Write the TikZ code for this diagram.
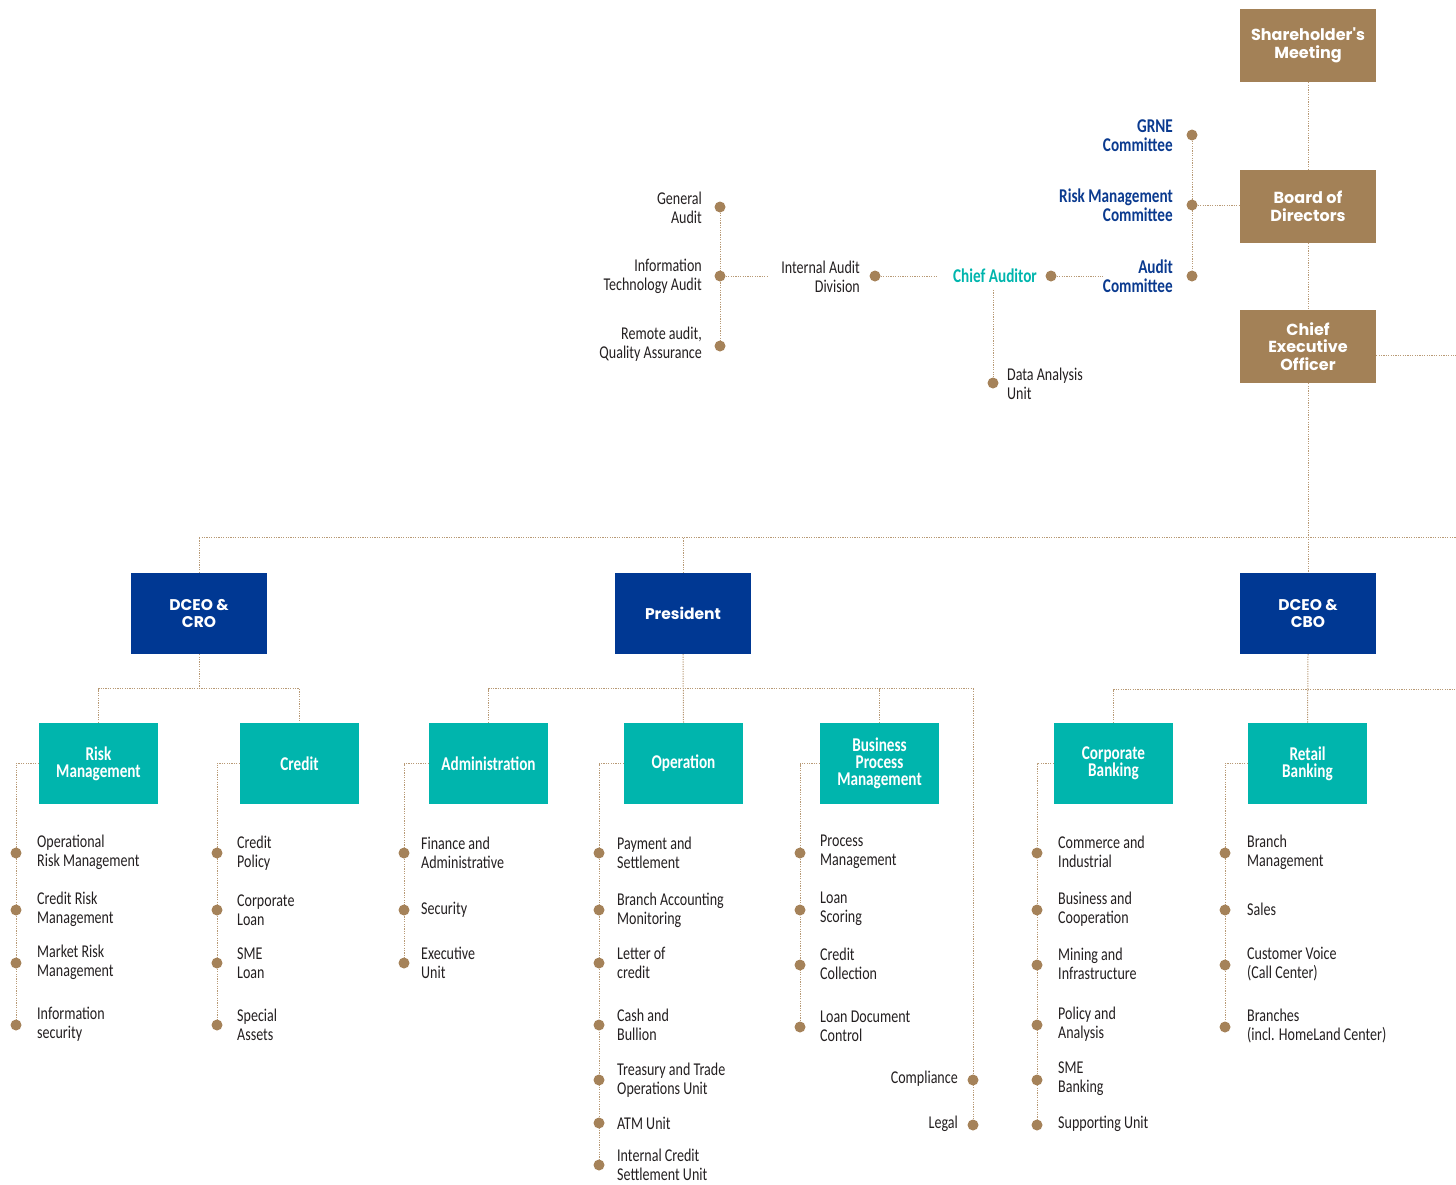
\documentclass[tikz,border=0pt]{standalone}
\usepackage{fontspec}
\setmainfont{Carlito}
\newfontfamily\cond[FakeStretch=0.78]{Carlito}
\newfontfamily\pop{Poppins}
\usetikzlibrary{backgrounds}
\definecolor{boxbrown}{HTML}{A38157}
\definecolor{dotc}{HTML}{A58259}
\definecolor{linec}{HTML}{B89A76}
\definecolor{navy}{HTML}{003893}
\definecolor{teal}{HTML}{00B5AD}
\definecolor{cblue}{HTML}{0A3A8F}
\definecolor{txt}{HTML}{231F20}
\tikzset{
  box/.style={minimum width=136pt, inner sep=0pt, align=center, text=white},
  bbox/.style={box, fill=boxbrown, minimum height=73pt, font=\pop\bfseries\fontsize{16}{17.5}\selectfont},
  dbox/.style={box, fill=navy, minimum height=81pt, font=\pop\bfseries\fontsize{15.5}{17.5}\selectfont},
  tbox/.style={box, fill=teal, minimum width=119pt, minimum height=81pt, font=\cond\bfseries\fontsize{19.5}{17}\selectfont},
  dot/.style={circle, fill=dotc, minimum size=11pt, inner sep=0pt},
  conn/.style={draw=linec, line width=1pt, dash pattern=on 1.2pt off 1.2pt},
  lbl/.style={font=\cond\fontsize{18}{19}\selectfont, text=txt, inner sep=0pt, align=left, anchor=west},
  lblr/.style={lbl, align=right, anchor=east},
  cmt/.style={font=\cond\bfseries\fontsize{19.5}{19}\selectfont, text=cblue, inner sep=0pt, align=right, anchor=east},
}
\begin{document}
\begin{tikzpicture}[x=1pt,y=-1pt]
\useasboundingbox (0,0) rectangle (1456,1184);
% top boxes
\node[bbox] (sh)  at (1308,45.5)  {Shareholder's\\Meeting};
\node[bbox] (bod) at (1308,206.5) {Board of\\Directors};
\node[bbox] (ceo) at (1308,346.5) {Chief\\Executive\\Officer};
% committees
\node[dot] (g1) at (1192,135) {};
\node[dot] (g2) at (1192,205) {};
\node[dot] (g3) at (1192,276) {};
\node[cmt] (g1t) at (1173,135.5) {GRNE\\Committee};
\node[cmt] (g2t) at (1173,205.5) {Risk Management\\Committee};
\node[cmt] (g3t) at (1173,276.5) {Audit\\Committee};
% audit
\node[dot] (ca) at (1051,276) {};
\coordinate (caR) at (1103,276);
\node[font=\cond\bfseries\fontsize{19.5}{19}\selectfont, text=teal, inner sep=0pt] (cat) at (995,276) {Chief Auditor};
\coordinate (catL) at (937,276);
\coordinate (catS) at (993,290);
\node[dot] (dau) at (993,383) {};
\node[lbl] (daut) at (1007,383.5) {Data Analysis\\Unit};
\node[dot] (ia) at (875,276) {};
\node[lblr] (iat) at (860,276.5) {Internal Audit\\Division};
\coordinate (iaL) at (768,276);
\node[dot] (a1) at (720,207) {};
\node[dot] (a2) at (720,276) {};
\node[dot] (a3) at (720,346) {};
\node[lblr] (a1t) at (702,207.5) {General\\Audit};
\node[lblr] (a2t) at (702,276.5) {Information\\Technology Audit};
\node[lblr] (a3t) at (702,344.5) {Remote audit,\\Quality Assurance};
% level 2
\node[dbox] (cro)  at (199,613.5)  {DCEO \&\\CRO};
\node[dbox] (pres) at (683,613.5)  {President};
\node[dbox] (cbo)  at (1308,613.5) {DCEO \&\\CBO};
% level 3
\node[tbox] (rm)  at (98.5,763.5)  {Risk\\Management};
\node[tbox] (cr)  at (299.5,763.5) {Credit};
\node[tbox] (adm) at (488.5,763.5) {Administration};
\node[tbox] (op)  at (683.5,763.5) {Operation};
\node[tbox] (bpm) at (879.5,763.5) {Business\\Process\\Management};
\node[tbox] (cb)  at (1113.5,763.5){Corporate\\Banking};
\node[tbox] (rb)  at (1307.5,763.5){Retail\\Banking};
% lists
\foreach \n/\y/\t in {1/853/{Operational\\Risk Management},2/910/{Credit Risk\\Management},3/963/{Market Risk\\Management},4/1025/{Information\\security}}{
  \node[dot] (rm\n) at (16,\y) {};
  \node[lbl] (rm\n t) at (37,\y-1) {\t};}
\foreach \n/\y/\t in {1/853/{Credit\\Policy},2/910/{Corporate\\Loan},3/963/{SME\\Loan},4/1025/{Special\\Assets}}{
  \node[dot] (cr\n) at (217,\y) {};
  \node[lbl] (cr\n t) at (237,\y) {\t};}
\foreach \n/\y/\t in {1/853/{Finance and\\Administrative},2/910/{Security},3/963/{Executive\\Unit}}{
  \node[dot] (ad\n) at (404,\y) {};
  \node[lbl] (ad\n t) at (421,\y) {\t};}
\foreach \n/\y/\t in {1/853/{Payment and\\Settlement},2/910/{Branch Accounting\\Monitoring},3/963/{Letter of\\credit},4/1025/{Cash and\\Bullion},5/1080/{Treasury and Trade\\Operations Unit},6/1123/{ATM Unit},7/1165/{Internal Credit\\Settlement Unit}}{
  \node[dot] (op\n) at (599,\y) {};
  \node[lbl] (op\n t) at (617,\y) {\t};}
\foreach \n/\y/\t in {1/853/{Process\\Management},2/910/{Loan\\Scoring},3/965/{Credit\\Collection},4/1027/{Loan Document\\Control}}{
  \node[dot] (bp\n) at (800,\y) {};
  \node[lbl] (bp\n t) at (820,\y-1) {\t};}
\node[dot] (cmp) at (973,1080) {};
\node[dot] (lgd) at (973,1125) {};
\node[lblr] (cmpt) at (958,1079) {Compliance};
\node[lblr] (lgdt) at (958,1124) {Legal};
\foreach \n/\y/\t in {1/853/{Commerce and\\Industrial},2/910/{Business and\\Cooperation},3/965/{Mining and\\Infrastructure},4/1025/{Policy and\\Analysis},5/1080/{SME\\Banking},6/1125/{Supporting Unit}}{
  \node[dot] (cb\n) at (1037,\y) {};
  \node[lbl] (cb\n t) at (1058,\y-1) {\t};}
\foreach \n/\y/\t in {1/853/{Branch\\Management},2/910/{Sales},3/965/{Customer Voice\\(Call Center)},4/1027/{Branches\\(incl. HomeLand Center)}}{
  \node[dot] (rb\n) at (1225,\y) {};
  \node[lbl] (rb\n t) at (1247,\y-1) {\t};}
\coordinate (ceoR) at (1456,355);
\coordinate (r1) at (1456,537);
\coordinate (r2) at (1456,689);
\begin{pgfonlayer}{background}
\draw[conn] (sh.south) -- (bod.north);
\draw[conn] (bod.south) -- (ceo.north);
\draw[conn] (ceo.south) -- (cbo.north);
\draw[conn] (ceo.east |- ceoR) -- (ceoR);
\draw[conn] (g1) -- (g3);
\draw[conn] (g2) -- (bod.west |- g2);
\draw[conn] (ca) -- (caR);
\draw[conn] (ia) -- (catL);
\draw[conn] (catS) -- (dau);
\draw[conn] (a1) -- (a3);
\draw[conn] (a2) -- (iaL);
\draw[conn] (cro.north) |- (r1);
\draw[conn] (pres.north) -- (pres.north |- r1);
\draw[conn] (cro.south) -- ++(0,35) coordinate (croh);
\draw[conn] (rm.north) -- ++(0,-34) -| (cr.north);
\draw[conn] (pres.south) -- (op.north);
\draw[conn] (adm.north) -- ++(0,-34) -| (lgd);
\draw[conn] (bpm.north) -- ++(0,-34);
\draw[conn] (cbo.south) -- (rb.north);
\draw[conn] (cb.north) |- (r2);
\draw[conn] (rm.west) -| (rm4);
\draw[conn] (cr.west) -| (cr4);
\draw[conn] (adm.west) -| (ad3);
\draw[conn] (op.west) -| (op7);
\draw[conn] (bpm.west) -| (bp4);
\draw[conn] (cb.west) -| (cb6);
\draw[conn] (rb.west) -| (rb4);
\end{pgfonlayer}
\end{tikzpicture}
\end{document}
